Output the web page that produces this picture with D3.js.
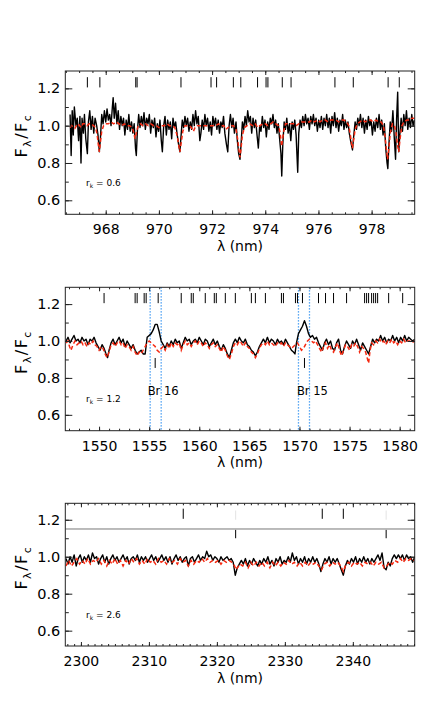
<!DOCTYPE html>
<html>
<head>
<meta charset="utf-8">
<script src="https://cdn.jsdelivr.net/npm/d3@7"></script>
<style>
body { margin: 0; background: #fff; }
svg text { font-family: "DejaVu Sans", sans-serif; fill: #000; }
</style>
</head>
<body>
<div id="chart"></div>
<script>
// observed (black) and model (red dashed) spectra, [wavelength nm, F/Fc]
var obs1 = [[966.66,1.06],[966.70,0.84],[966.74,1.08],[966.78,0.95],[966.82,1.10],[966.88,1.00],[966.93,1.04],[966.98,0.92],[967.03,1.05],[967.07,0.80],[967.11,1.04],[967.16,0.96],[967.20,1.06],[967.25,0.93],[967.31,0.85],[967.35,1.02],[967.40,1.08],[967.45,0.98],[967.50,1.05],[967.55,0.96],[967.60,1.04],[967.66,1.00],[967.71,0.95],[967.76,0.86],[967.80,0.93],[967.85,1.06],[967.90,1.01],[967.95,1.08],[968.00,1.02],[968.05,1.09],[968.10,1.03],[968.15,1.06],[968.20,1.00],[968.25,1.10],[968.28,1.15],[968.32,1.04],[968.37,1.12],[968.42,1.01],[968.47,1.08],[968.52,0.98],[968.57,1.05],[968.62,1.00],[968.67,1.04],[968.72,0.95],[968.77,1.03],[968.82,0.98],[968.87,1.06],[968.92,0.97],[968.97,1.02],[969.02,0.96],[969.07,1.01],[969.12,0.88],[969.15,0.84],[969.19,0.97],[969.24,1.06],[969.29,0.99],[969.34,1.05],[969.39,1.00],[969.44,1.07],[969.49,0.98],[969.54,1.04],[969.59,1.01],[969.64,1.06],[969.69,0.96],[969.74,1.03],[969.79,0.99],[969.84,1.04],[969.89,0.94],[969.94,1.01],[969.99,0.97],[970.04,1.03],[970.09,0.92],[970.13,0.86],[970.18,1.00],[970.23,1.05],[970.28,0.95],[970.33,1.03],[970.38,0.98],[970.43,1.02],[970.48,0.93],[970.53,1.04],[970.58,0.99],[970.63,1.02],[970.68,0.96],[970.74,0.90],[970.79,0.86],[970.83,0.94],[970.88,1.03],[970.93,0.99],[970.98,1.05],[971.03,1.00],[971.08,1.04],[971.13,0.97],[971.18,1.02],[971.23,0.98],[971.28,1.06],[971.33,1.00],[971.38,1.08],[971.43,1.01],[971.48,1.05],[971.54,0.92],[971.58,0.96],[971.63,1.03],[971.68,0.98],[971.73,1.06],[971.78,1.00],[971.83,1.04],[971.88,0.97],[971.93,1.02],[971.98,0.95],[972.03,1.05],[972.08,1.00],[972.13,1.04],[972.18,0.98],[972.23,1.03],[972.28,0.96],[972.33,1.02],[972.38,0.99],[972.43,1.05],[972.48,0.96],[972.54,0.90],[972.59,0.86],[972.64,1.00],[972.69,1.06],[972.74,0.99],[972.79,1.04],[972.84,0.96],[972.90,1.02],[972.95,0.92],[973.00,0.85],[973.05,0.82],[973.09,0.90],[973.14,1.02],[973.19,0.98],[973.24,1.05],[973.29,1.00],[973.34,1.08],[973.39,1.02],[973.44,1.05],[973.49,0.96],[973.54,1.04],[973.59,0.99],[973.64,1.03],[973.69,0.95],[973.74,0.88],[973.79,1.00],[973.84,0.97],[973.89,1.05],[973.94,0.99],[973.99,1.03],[974.04,0.94],[974.09,1.02],[974.14,0.98],[974.19,1.04],[974.24,1.01],[974.29,1.06],[974.34,0.99],[974.39,1.03],[974.44,0.96],[974.49,1.01],[974.54,0.93],[974.59,0.85],[974.62,0.73],[974.66,0.90],[974.71,1.02],[974.76,0.98],[974.81,1.04],[974.86,0.96],[974.91,1.01],[974.96,0.92],[975.01,1.02],[975.06,0.98],[975.11,1.03],[975.16,0.95],[975.22,0.75],[975.26,0.96],[975.31,1.03],[975.36,0.99],[975.41,1.05],[975.46,1.00],[975.51,1.06],[975.56,1.01],[975.61,1.04],[975.66,0.98],[975.71,1.05],[975.76,1.01],[975.81,1.06],[975.86,1.00],[975.91,1.04],[975.96,0.97],[976.01,1.03],[976.06,0.99],[976.11,1.05],[976.16,0.98],[976.21,1.04],[976.26,1.00],[976.31,1.06],[976.36,0.99],[976.41,1.04],[976.46,0.96],[976.51,1.05],[976.56,1.00],[976.61,1.07],[976.66,0.99],[976.71,1.04],[976.76,0.97],[976.81,1.03],[976.86,1.00],[976.91,1.06],[976.96,0.98],[977.01,1.03],[977.06,0.99],[977.11,1.02],[977.16,0.96],[977.22,0.91],[977.28,0.87],[977.33,0.95],[977.38,1.02],[977.43,0.98],[977.48,1.04],[977.53,1.00],[977.58,1.06],[977.63,0.99],[977.68,1.04],[977.73,0.96],[977.78,1.03],[977.83,0.98],[977.88,1.05],[977.93,1.00],[977.98,1.03],[978.03,0.95],[978.08,1.02],[978.13,0.97],[978.18,1.04],[978.23,0.99],[978.28,1.06],[978.33,0.98],[978.38,1.03],[978.43,0.95],[978.48,1.01],[978.53,0.88],[978.58,0.80],[978.61,0.77],[978.65,0.90],[978.70,1.02],[978.75,0.97],[978.80,1.08],[978.85,0.94],[978.90,0.82],[978.94,1.04],[978.98,1.18],[979.02,0.86],[979.06,0.95],[979.11,1.04],[979.16,0.97],[979.21,1.06],[979.26,1.00],[979.31,1.08],[979.36,0.98],[979.41,1.04],[979.46,0.99],[979.51,1.06],[979.56,1.00],[979.61,1.03]];

var mod1 = [[966.66,0.99],[966.72,1.00],[966.78,0.99],[966.84,0.985],[966.90,1.00],[966.96,1.01],[967.02,1.00],[967.08,0.99],[967.14,1.01],[967.22,1.01],[967.30,1.00],[967.38,1.01],[967.46,1.01],[967.54,1.00],[967.62,0.99],[967.68,0.95],[967.72,0.90],[967.76,0.86],[967.80,0.91],[967.85,0.97],[967.92,1.00],[968.00,1.01],[968.10,1.01],[968.20,1.02],[968.30,1.01],[968.40,1.02],[968.50,1.01],[968.60,1.00],[968.70,1.01],[968.80,1.00],[968.90,1.00],[969.00,0.99],[969.06,0.96],[969.10,0.93],[969.15,0.96],[969.22,1.00],[969.30,1.01],[969.40,1.00],[969.50,1.01],[969.60,1.00],[969.70,1.01],[969.80,1.00],[969.90,1.00],[970.00,0.99],[970.10,1.00],[970.20,1.00],[970.30,1.01],[970.40,1.00],[970.50,1.00],[970.60,0.99],[970.68,0.95],[970.74,0.90],[970.79,0.86],[970.84,0.91],[970.90,0.97],[970.98,1.00],[971.06,1.00],[971.14,1.00],[971.22,0.99],[971.30,0.97],[971.36,0.99],[971.44,1.00],[971.54,1.00],[971.64,1.00],[971.74,1.00],[971.84,1.00],[971.94,1.00],[972.04,1.00],[972.14,1.00],[972.24,1.01],[972.34,1.00],[972.44,1.00],[972.52,0.98],[972.60,0.99],[972.70,1.00],[972.80,1.00],[972.90,0.98],[972.96,0.93],[973.01,0.87],[973.05,0.83],[973.09,0.88],[973.14,0.95],[973.22,0.99],[973.32,1.00],[973.42,1.01],[973.52,1.00],[973.62,1.01],[973.72,0.99],[973.80,1.00],[973.90,1.01],[974.00,1.01],[974.10,1.00],[974.20,1.01],[974.30,1.02],[974.40,1.01],[974.50,1.00],[974.56,0.96],[974.62,0.89],[974.68,0.96],[974.76,1.01],[974.86,1.01],[974.96,1.01],[975.06,1.01],[975.16,1.00],[975.26,1.01],[975.36,1.02],[975.46,1.02],[975.56,1.02],[975.66,1.02],[975.76,1.03],[975.86,1.02],[975.96,1.03],[976.06,1.02],[976.16,1.03],[976.26,1.03],[976.36,1.02],[976.46,1.03],[976.56,1.03],[976.66,1.03],[976.76,1.02],[976.86,1.03],[976.96,1.03],[977.06,1.02],[977.14,1.00],[977.20,0.95],[977.25,0.90],[977.28,0.88],[977.32,0.92],[977.38,0.98],[977.46,1.01],[977.56,1.02],[977.66,1.03],[977.76,1.02],[977.86,1.03],[977.96,1.03],[978.06,1.02],[978.16,1.03],[978.26,1.02],[978.36,1.02],[978.44,1.00],[978.50,0.95],[978.55,0.88],[978.60,0.82],[978.65,0.88],[978.70,0.96],[978.78,1.01],[978.86,1.00],[978.92,0.96],[978.97,0.90],[979.02,0.86],[979.07,0.93],[979.14,1.00],[979.22,1.02],[979.32,1.03],[979.42,1.03],[979.52,1.04],[979.61,1.04]];

var obs2 = [[1546.7,1.00],[1546.9,1.02],[1547.1,0.99],[1547.3,1.01],[1547.5,1.03],[1547.7,1.00],[1547.9,1.01],[1548.1,0.99],[1548.3,1.02],[1548.5,1.00],[1548.7,1.01],[1548.9,0.98],[1549.1,1.01],[1549.3,1.00],[1549.5,1.02],[1549.7,0.99],[1549.9,0.97],[1550.1,0.95],[1550.3,0.98],[1550.5,0.96],[1550.7,0.93],[1550.85,0.91],[1551.0,0.95],[1551.2,0.99],[1551.4,1.01],[1551.6,0.98],[1551.8,1.00],[1552.0,1.02],[1552.2,0.99],[1552.4,1.01],[1552.6,0.97],[1552.8,1.00],[1553.0,0.98],[1553.2,0.96],[1553.4,0.98],[1553.6,0.95],[1553.8,0.93],[1554.0,0.94],[1554.2,0.95],[1554.4,0.93],[1554.6,0.93],[1554.8,1.02],[1555.0,1.03],[1555.2,1.04],[1555.4,1.06],[1555.6,1.09],[1555.8,1.09],[1556.0,1.05],[1556.2,1.00],[1556.4,0.98],[1556.6,0.96],[1556.8,0.99],[1557.0,0.97],[1557.2,1.00],[1557.4,0.98],[1557.6,1.01],[1557.8,0.99],[1558.0,1.00],[1558.2,0.96],[1558.4,0.99],[1558.6,1.02],[1558.8,1.00],[1559.0,1.01],[1559.2,0.98],[1559.4,1.00],[1559.6,1.01],[1559.8,0.99],[1560.0,1.02],[1560.2,1.00],[1560.4,0.98],[1560.6,1.01],[1560.8,1.00],[1561.0,0.97],[1561.2,0.99],[1561.4,1.01],[1561.6,0.98],[1561.8,1.00],[1562.0,0.97],[1562.2,0.95],[1562.4,0.98],[1562.6,0.96],[1562.8,0.93],[1563.0,0.91],[1563.2,0.95],[1563.4,0.99],[1563.6,1.01],[1563.8,0.99],[1564.0,1.02],[1564.2,1.00],[1564.4,0.99],[1564.6,1.01],[1564.8,0.98],[1565.0,0.97],[1565.2,0.95],[1565.4,0.94],[1565.6,0.92],[1565.8,0.94],[1566.0,0.97],[1566.2,0.99],[1566.4,1.01],[1566.6,0.99],[1566.8,1.02],[1567.0,0.99],[1567.2,1.01],[1567.4,1.00],[1567.6,0.98],[1567.8,1.01],[1568.0,0.99],[1568.2,1.00],[1568.4,0.98],[1568.6,1.01],[1568.8,0.99],[1569.0,0.97],[1569.2,0.95],[1569.4,0.94],[1569.55,0.93],[1569.7,0.99],[1569.9,1.04],[1570.1,1.06],[1570.3,1.08],[1570.5,1.11],[1570.7,1.08],[1570.9,1.04],[1571.1,1.02],[1571.3,1.03],[1571.5,1.01],[1571.7,1.02],[1571.9,0.99],[1572.1,0.97],[1572.3,0.95],[1572.5,0.99],[1572.7,1.01],[1572.9,0.98],[1573.1,1.00],[1573.3,0.96],[1573.5,0.95],[1573.7,0.99],[1573.9,1.01],[1574.1,0.95],[1574.3,0.93],[1574.5,0.97],[1574.7,1.00],[1574.9,0.98],[1575.1,0.96],[1575.3,1.00],[1575.5,0.98],[1575.7,1.01],[1575.9,0.98],[1576.1,0.95],[1576.3,0.99],[1576.5,0.97],[1576.7,0.95],[1576.9,0.93],[1577.1,0.97],[1577.3,1.01],[1577.5,0.99],[1577.7,1.01],[1577.9,1.00],[1578.1,1.03],[1578.3,1.00],[1578.5,1.02],[1578.7,0.99],[1578.9,1.01],[1579.1,1.00],[1579.3,1.03],[1579.5,1.00],[1579.7,1.02],[1579.9,0.99],[1580.1,1.02],[1580.3,1.00],[1580.5,1.03],[1580.7,1.00],[1580.9,1.02],[1581.1,1.01],[1581.3,1.00],[1581.5,1.01]];

var mod2 = [[1546.7,0.99],[1546.9,1.00],[1547.05,0.97],[1547.2,0.95],[1547.4,0.98],[1547.6,1.00],[1547.8,0.98],[1548.0,0.99],[1548.2,1.00],[1548.4,0.98],[1548.6,0.99],[1548.8,0.97],[1549.0,0.99],[1549.2,0.98],[1549.4,1.00],[1549.6,0.98],[1549.8,0.97],[1550.0,0.95],[1550.2,0.97],[1550.4,0.96],[1550.6,0.93],[1550.8,0.91],[1551.0,0.94],[1551.2,0.98],[1551.4,0.99],[1551.6,0.97],[1551.8,0.99],[1552.0,1.00],[1552.2,0.98],[1552.4,0.99],[1552.6,0.96],[1552.8,0.98],[1553.0,0.97],[1553.2,0.95],[1553.4,0.97],[1553.6,0.94],[1553.8,0.92],[1554.0,0.94],[1554.2,0.93],[1554.4,0.95],[1554.6,0.97],[1554.8,0.99],[1555.0,1.00],[1555.2,0.99],[1555.4,0.98],[1555.6,0.97],[1555.8,0.95],[1556.0,0.94],[1556.2,0.96],[1556.4,0.97],[1556.6,0.95],[1556.8,0.98],[1557.0,0.96],[1557.2,0.99],[1557.4,0.97],[1557.6,0.99],[1557.8,0.98],[1558.0,0.99],[1558.2,0.95],[1558.4,0.98],[1558.6,1.00],[1558.8,0.98],[1559.0,0.99],[1559.2,0.97],[1559.4,0.99],[1559.6,1.00],[1559.8,0.98],[1560.0,1.00],[1560.2,0.99],[1560.4,0.97],[1560.6,0.99],[1560.8,0.98],[1561.0,0.96],[1561.2,0.98],[1561.4,0.99],[1561.6,0.97],[1561.8,0.98],[1562.0,0.96],[1562.2,0.94],[1562.4,0.97],[1562.6,0.95],[1562.8,0.92],[1563.0,0.90],[1563.2,0.93],[1563.4,0.97],[1563.6,0.99],[1563.8,0.98],[1564.0,1.00],[1564.2,0.99],[1564.4,0.97],[1564.6,0.99],[1564.8,0.97],[1565.0,0.96],[1565.2,0.94],[1565.4,0.93],[1565.6,0.91],[1565.8,0.93],[1566.0,0.96],[1566.2,0.98],[1566.4,0.99],[1566.6,0.98],[1566.8,1.00],[1567.0,0.98],[1567.2,0.99],[1567.4,0.98],[1567.6,0.97],[1567.8,0.99],[1568.0,0.98],[1568.2,0.99],[1568.4,0.97],[1568.6,0.99],[1568.8,0.98],[1569.0,0.97],[1569.2,0.96],[1569.4,0.97],[1569.6,0.98],[1569.8,0.99],[1570.0,0.97],[1570.2,0.95],[1570.4,0.96],[1570.6,0.98],[1570.8,1.00],[1571.0,1.01],[1571.2,1.00],[1571.4,0.99],[1571.6,1.00],[1571.8,0.98],[1572.0,0.96],[1572.2,0.94],[1572.4,0.97],[1572.6,0.99],[1572.8,0.96],[1573.0,0.98],[1573.2,0.95],[1573.4,0.94],[1573.6,0.97],[1573.8,0.99],[1574.0,0.95],[1574.2,0.92],[1574.4,0.95],[1574.6,0.98],[1574.8,0.97],[1575.0,0.95],[1575.2,0.98],[1575.4,0.97],[1575.6,0.99],[1575.8,0.97],[1576.0,0.94],[1576.2,0.97],[1576.4,0.96],[1576.6,0.94],[1576.75,0.91],[1576.9,0.88],[1577.05,0.95],[1577.2,0.99],[1577.4,0.98],[1577.6,1.00],[1577.8,0.99],[1578.0,1.01],[1578.2,0.99],[1578.4,1.00],[1578.6,0.98],[1578.8,1.00],[1579.0,0.99],[1579.2,1.01],[1579.4,0.99],[1579.6,1.00],[1579.8,0.98],[1580.0,1.00],[1580.2,0.99],[1580.4,1.01],[1580.6,0.99],[1580.8,1.00],[1581.0,1.00],[1581.2,0.99],[1581.5,1.00]];

var obs3 = [[2297.8,0.99],[2298.1,0.96],[2298.4,1.00],[2298.7,0.97],[2299.0,1.01],[2299.3,0.95],[2299.6,0.99],[2299.9,1.01],[2300.2,0.97],[2300.5,1.00],[2300.8,0.98],[2301.1,1.01],[2301.4,0.97],[2301.7,1.02],[2302.0,0.99],[2302.3,1.00],[2302.6,0.96],[2302.9,0.99],[2303.2,1.01],[2303.5,0.97],[2303.8,1.00],[2304.1,0.96],[2304.4,0.99],[2304.7,1.01],[2305.0,0.98],[2305.3,1.00],[2305.6,0.97],[2305.9,0.99],[2306.2,1.01],[2306.5,0.98],[2306.8,1.00],[2307.1,0.96],[2307.4,0.99],[2307.7,1.00],[2308.0,0.98],[2308.3,1.01],[2308.6,0.97],[2308.9,1.00],[2309.2,0.98],[2309.5,1.00],[2309.8,0.97],[2310.1,0.99],[2310.4,1.01],[2310.7,0.98],[2311.0,1.00],[2311.3,0.97],[2311.6,0.99],[2311.9,1.01],[2312.2,0.98],[2312.5,1.00],[2312.8,0.97],[2313.1,1.00],[2313.4,0.96],[2313.7,0.99],[2314.0,1.01],[2314.3,0.98],[2314.6,1.00],[2314.9,0.97],[2315.2,0.99],[2315.5,1.00],[2315.8,0.95],[2316.1,0.99],[2316.4,1.00],[2316.7,0.97],[2317.0,0.99],[2317.3,1.01],[2317.6,0.98],[2317.9,1.00],[2318.2,0.99],[2318.5,1.03],[2318.8,1.00],[2319.1,1.01],[2319.4,0.98],[2319.7,1.00],[2320.0,0.99],[2320.3,0.97],[2320.6,1.00],[2320.9,0.98],[2321.2,0.99],[2321.5,1.00],[2321.8,0.98],[2322.1,0.99],[2322.4,0.97],[2322.7,0.90],[2323.0,0.94],[2323.3,0.96],[2323.6,0.98],[2323.9,0.96],[2324.2,0.99],[2324.5,0.95],[2324.8,0.98],[2325.1,0.96],[2325.4,0.99],[2325.7,0.97],[2326.0,0.95],[2326.3,0.98],[2326.6,0.96],[2326.9,0.99],[2327.2,0.97],[2327.5,1.00],[2327.8,0.96],[2328.1,0.98],[2328.4,0.95],[2328.7,0.99],[2329.0,0.97],[2329.3,1.00],[2329.6,0.96],[2329.9,0.98],[2330.2,0.97],[2330.5,1.00],[2330.8,0.97],[2331.1,1.02],[2331.4,0.98],[2331.7,1.00],[2332.0,0.96],[2332.3,0.99],[2332.6,0.97],[2332.9,1.00],[2333.2,0.96],[2333.5,0.99],[2333.8,0.97],[2334.1,1.00],[2334.4,0.97],[2334.7,0.99],[2335.0,0.96],[2335.3,0.92],[2335.6,0.96],[2335.9,0.99],[2336.2,0.97],[2336.5,1.00],[2336.8,0.96],[2337.1,0.99],[2337.4,0.97],[2337.7,0.99],[2338.0,0.96],[2338.3,0.93],[2338.6,0.90],[2338.9,0.95],[2339.2,0.98],[2339.5,0.96],[2339.8,0.99],[2340.1,0.97],[2340.4,1.00],[2340.7,0.96],[2341.0,0.99],[2341.3,0.97],[2341.6,1.00],[2341.9,0.97],[2342.2,0.99],[2342.5,0.96],[2342.8,0.99],[2343.1,0.97],[2343.4,0.99],[2343.7,1.01],[2344.0,0.98],[2344.3,1.02],[2344.6,0.94],[2344.9,0.93],[2345.2,0.97],[2345.5,0.95],[2345.8,0.99],[2346.1,1.01],[2346.4,0.99],[2346.7,1.01],[2347.0,0.99],[2347.3,1.01],[2347.6,0.98],[2347.9,1.01],[2348.2,0.99],[2348.5,1.00],[2348.8,0.97],[2349.1,1.00]];

var mod3 = [[2297.8,0.95],[2298.2,0.98],[2298.6,0.95],[2299.0,0.97],[2299.4,0.99],[2299.8,0.96],[2300.2,0.98],[2300.6,0.96],[2301.0,0.99],[2301.4,0.96],[2301.8,0.98],[2302.2,0.97],[2302.6,0.99],[2303.0,0.96],[2303.4,0.98],[2303.8,0.95],[2304.2,0.98],[2304.6,0.96],[2305.0,0.99],[2305.4,0.96],[2305.8,0.98],[2306.2,0.95],[2306.6,0.98],[2307.0,0.96],[2307.4,0.99],[2307.8,0.97],[2308.2,0.99],[2308.6,0.96],[2309.0,0.98],[2309.4,0.96],[2309.8,0.99],[2310.2,0.97],[2310.6,0.98],[2311.0,0.96],[2311.4,0.99],[2311.8,0.97],[2312.2,0.98],[2312.6,0.96],[2313.0,0.99],[2313.4,0.97],[2313.8,0.98],[2314.2,0.96],[2314.6,0.99],[2315.0,0.97],[2315.4,0.98],[2315.8,0.95],[2316.2,0.98],[2316.6,0.96],[2317.0,0.98],[2317.4,0.97],[2317.8,0.99],[2318.2,0.97],[2318.6,0.99],[2319.0,0.97],[2319.4,0.98],[2319.8,0.97],[2320.2,0.98],[2320.6,0.96],[2321.0,0.98],[2321.4,0.97],[2321.8,0.98],[2322.2,0.97],[2322.6,0.95],[2322.8,0.93],[2323.0,0.94],[2323.4,0.96],[2323.8,0.95],[2324.2,0.97],[2324.6,0.94],[2325.0,0.97],[2325.4,0.95],[2325.8,0.97],[2326.2,0.95],[2326.6,0.97],[2327.0,0.95],[2327.4,0.97],[2327.8,0.94],[2328.2,0.97],[2328.6,0.95],[2329.0,0.97],[2329.4,0.95],[2329.8,0.97],[2330.2,0.96],[2330.6,0.98],[2331.0,0.96],[2331.4,0.97],[2331.8,0.95],[2332.2,0.97],[2332.6,0.95],[2333.0,0.97],[2333.4,0.95],[2333.8,0.97],[2334.2,0.96],[2334.6,0.97],[2335.0,0.95],[2335.4,0.93],[2335.8,0.96],[2336.2,0.97],[2336.6,0.95],[2337.0,0.97],[2337.4,0.96],[2337.8,0.97],[2338.2,0.95],[2338.6,0.92],[2339.0,0.96],[2339.4,0.97],[2339.8,0.95],[2340.2,0.97],[2340.6,0.96],[2341.0,0.97],[2341.4,0.95],[2341.8,0.97],[2342.2,0.96],[2342.6,0.97],[2343.0,0.95],[2343.4,0.97],[2343.8,0.96],[2344.2,0.97],[2344.6,0.94],[2345.0,0.95],[2345.4,0.97],[2345.8,0.96],[2346.2,0.98],[2346.6,0.97],[2347.0,0.99],[2347.4,0.97],[2347.8,0.99],[2348.2,0.98],[2348.6,0.99],[2349.0,0.98]];

// line identification marks (nm)
var lines1 = [967.31,967.78,969.13,969.18,970.83,971.96,972.17,972.80,973.08,973.71,974.03,974.10,974.64,974.97,976.62,977.31,978.62,979.04];
var lines2 = [1550.5,1553.6,1553.8,1554.5,1554.7,1555.9,1558.2,1559.2,1559.4,1560.6,1561.5,1561.7,1562.6,1563.6,1565.2,1565.6,1566.6,1568.2,1568.4,1569.6,1569.8,1570.3,1571.9,1572.6,1573.4,1574.7,1576.5,1576.7,1576.9,1577.2,1577.4,1577.6,1577.8,1578.9,1580.3];
var lines3 = [2315.05,2335.5,2338.6];
var lines3faint = [2322.76,2344.9];
var lines3low = [2322.76,2344.9];

// Brackett lines in the H panel
var brWindows = [1555.1,1556.2,1569.9,1571.0];
var brCentres = [1555.6,1570.5];
var brNames = ["Br 16","Br 15"];
var brLabelAt = [1554.85,1569.75];

var xTicks1 = [968,970,972,974,976,978];
var xTicks2 = [1550,1555,1560,1565,1570,1575,1580];
var xTicks3 = [2300,2310,2320,2330,2340];
var yTicks = [0.6,0.8,1.0,1.2];
var yMinor = [0.6,0.7,0.8,0.9,1.0,1.1,1.2];
var rkValues = ["0.6","1.2","2.6"];

var W = 436, H = 719;
var left = 65.3, right = 414.7;

var svg = d3.select("#chart").append("svg")
    .attr("width", W)
    .attr("height", H);

var panels = [
    {top: 71, bottom: 214.3, xd: [966.48, 979.62], yd: [0.525, 1.293], ticks: xTicks1, minor: 0.5, obs: obs1, mod: mod1, ids: lines1},
    {top: 287.3, bottom: 430.7, xd: [1546.63, 1581.5], yd: [0.514, 1.291], ticks: xTicks2, minor: 1, obs: obs2, mod: mod2, ids: lines2},
    {top: 503.3, bottom: 646, xd: [2297.7, 2349.1], yd: [0.517, 1.289], ticks: xTicks3, minor: 1, obs: obs3, mod: mod3, ids: lines3}
];

panels.forEach(function(p, i) {
    var x = d3.scaleLinear().domain(p.xd).range([left, right]);
    var y = d3.scaleLinear().domain(p.yd).range([p.bottom, p.top]);
    var g = svg.append("g");

    svg.append("clipPath").attr("id", "clip" + i)
        .append("rect")
        .attr("x", left).attr("y", p.top)
        .attr("width", right - left).attr("height", p.bottom - p.top);

    var plot = g.append("g").attr("clip-path", "url(#clip" + i + ")");

    // Brackett windows (dotted blue)
    if (i == 1) {
        plot.selectAll(".brw").data(brWindows).enter().append("line")
            .attr("x1", function(d) { return x(d); })
            .attr("x2", function(d) { return x(d); })
            .attr("y1", p.top).attr("y2", p.bottom)
            .attr("stroke", "#2d8ff0")
            .attr("stroke-width", 1.3)
            .attr("stroke-dasharray", "1.3,1.7");
    }

    var line = d3.line()
        .x(function(d) { return x(d[0]); })
        .y(function(d) { return y(d[1]); });

    plot.append("path").datum(p.obs)
        .attr("d", line)
        .attr("fill", "none")
        .attr("stroke", "#000")
        .attr("stroke-width", 1.4)
        .attr("stroke-linejoin", "round");

    plot.append("path").datum(p.mod)
        .attr("d", line)
        .attr("fill", "none")
        .attr("stroke", "#f52810")
        .attr("stroke-width", 1.5)
        .attr("stroke-dasharray", "4,2.5");

    // line identifications
    plot.selectAll(".id").data(p.ids).enter().append("line")
        .attr("x1", function(d) { return x(d); })
        .attr("x2", function(d) { return x(d); })
        .attr("y1", y(1.26)).attr("y2", y(1.205))
        .attr("stroke", "#000").attr("stroke-width", 1);

    if (i == 2) {
        plot.selectAll(".idf").data(lines3faint).enter().append("line")
            .attr("x1", function(d) { return x(d); })
            .attr("x2", function(d) { return x(d); })
            .attr("y1", y(1.25)).attr("y2", y(1.20))
            .attr("stroke", "#e4e4e4").attr("stroke-width", 1);
        plot.append("line")
            .attr("x1", left).attr("x2", right)
            .attr("y1", y(1.15)).attr("y2", y(1.15))
            .attr("stroke", "#777").attr("stroke-width", 1);
        plot.selectAll(".idl").data(lines3low).enter().append("line")
            .attr("x1", function(d) { return x(d); })
            .attr("x2", function(d) { return x(d); })
            .attr("y1", y(1.145)).attr("y2", y(1.10))
            .attr("stroke", "#000").attr("stroke-width", 1);
    }

    if (i == 1) {
        plot.selectAll(".brc").data(brCentres).enter().append("line")
            .attr("x1", function(d) { return x(d); })
            .attr("x2", function(d) { return x(d); })
            .attr("y1", y(0.908)).attr("y2", y(0.854))
            .attr("stroke", "#000").attr("stroke-width", 1);
        g.selectAll(".brn").data(brNames).enter().append("text")
            .attr("x", function(d, k) { return x(brLabelAt[k]); })
            .attr("y", y(0.707))
            .style("font-size", "11.5px")
            .text(function(d) { return d; });
    }

    // axes, ticks pointing inward
    var minorX = d3.range(Math.ceil(p.xd[0] / p.minor) * p.minor, p.xd[1], p.minor);
    var axisDefs = [
        [d3.axisBottom(x).tickValues(p.ticks).tickSize(-4).tickPadding(10).tickFormat(d3.format("d")), p.bottom],
        [d3.axisBottom(x).tickValues(minorX).tickSize(-2).tickFormat(""), p.bottom],
        [d3.axisTop(x).tickValues(p.ticks).tickSize(-4).tickFormat(""), p.top],
        [d3.axisTop(x).tickValues(minorX).tickSize(-2).tickFormat(""), p.top]
    ];
    axisDefs.forEach(function(a) {
        var ag = g.append("g").attr("transform", "translate(0," + a[1] + ")").call(a[0]);
        ag.select(".domain").remove();
        ag.selectAll("line").attr("stroke", "#222");
        ag.selectAll("text").style("font-size", "14px").attr("fill", "#000");
    });

    var yAxes = [
        [d3.axisLeft(y).tickValues(yTicks).tickSize(-7).tickPadding(5).tickFormat(d3.format(".1f")), left],
        [d3.axisLeft(y).tickValues(yMinor).tickSize(-3.5).tickFormat(""), left],
        [d3.axisRight(y).tickValues(yTicks).tickSize(-7).tickFormat(""), right],
        [d3.axisRight(y).tickValues(yMinor).tickSize(-3.5).tickFormat(""), right]
    ];
    yAxes.forEach(function(a) {
        var ag = g.append("g").attr("transform", "translate(" + a[1] + ",0)").call(a[0]);
        ag.select(".domain").remove();
        ag.selectAll("line").attr("stroke", "#222");
        ag.selectAll("text").style("font-size", "14.5px").attr("fill", "#000");
    });

    // frame
    g.append("rect")
        .attr("x", left).attr("y", p.top)
        .attr("width", right - left).attr("height", p.bottom - p.top)
        .attr("fill", "none")
        .attr("stroke", "#222")
        .attr("stroke-width", 1);

    // axis titles
    var mid = (p.top + p.bottom) / 2 - 7;
    var yt = g.append("text")
        .attr("transform", "translate(27," + mid + ") rotate(-90)")
        .attr("text-anchor", "middle")
        .style("font-size", "16px")
        .style("letter-spacing", "1.5px");
    yt.append("tspan").text("F");
    yt.append("tspan").attr("dy", 4).style("font-size", "11px").text("λ");
    yt.append("tspan").attr("dy", -4).text("/F");
    yt.append("tspan").attr("dy", 4).style("font-size", "11px").text("c");

    g.append("text")
        .attr("x", (left + right) / 2)
        .attr("y", p.bottom + 36.5)
        .attr("text-anchor", "middle")
        .style("font-size", "14px")
        .text("λ (nm)");

    var rk = g.append("text")
        .attr("x", 86)
        .attr("y", p.top + 115)
        .style("font-size", "9px");
    rk.append("tspan").text("r");
    rk.append("tspan").attr("dy", 2).style("font-size", "6px").text("k");
    rk.append("tspan").attr("dy", -2).text(" = " + rkValues[i]);
});
</script>
</body>
</html>
